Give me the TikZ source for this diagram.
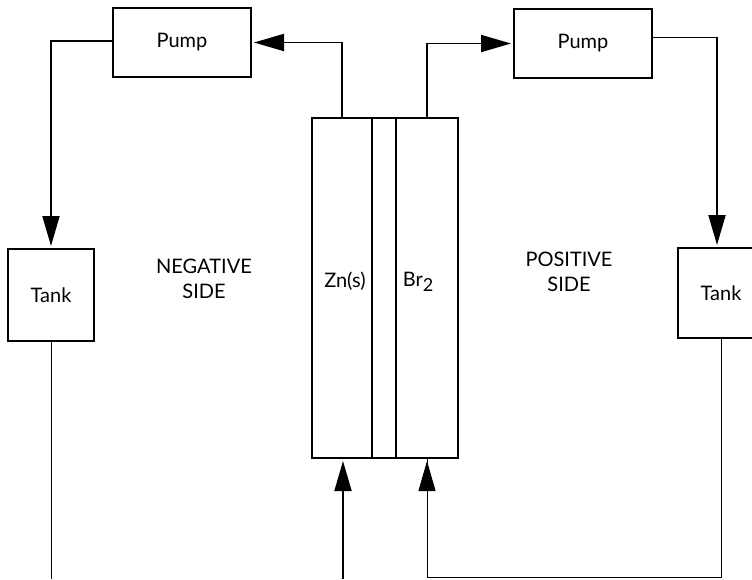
\documentclass[tikz,border=0pt]{standalone}
\usepackage{fontspec}
\setmainfont{Lato}
\usetikzlibrary{arrows.meta}
\begin{document}
\begin{tikzpicture}[x=1pt,y=-1pt,
  every node/.style={font=\fontsize{20}{24.5}\selectfont},
  unit/.style={draw,line width=1.9pt,inner sep=0pt,outer sep=0pt},
  heavy/.style={line width=1.9pt},
  light/.style={line width=0.9pt},
  tip/.style={-{Triangle[length=30pt,width=17pt]},shorten >=3pt}]
\useasboundingbox (0,0) rectangle (752,579);
% pumps and tanks
\node[unit,minimum width=138,minimum height=69] (lp) at (182,42.5) {Pump};
\node[unit,minimum width=138,minimum height=69] (rp) at (583,43.5) {Pump};
\node[unit,minimum width=86,minimum height=92] (lt) at (51,295) {Tank};
\node[unit,minimum width=86,minimum height=90] (rt) at (721,293) {Tank};
% cell compartments
\node[unit,minimum width=60,minimum height=340] (zn) at (342,288) {};
\node[unit,minimum width=24,minimum height=340] (mem) at (384,288) {};
\node[unit,minimum width=62,minimum height=340] (br) at (427,288) {};
\node (znl) at (345,281) {Zn(s)};
\node (brl) at (418,282) {Br\raisebox{-5pt}{\fontsize{18}{18}\selectfont 2}};
% side labels
\node[align=center] (neg) at (204,279) {NEGATIVE\\SIDE};
\node[align=center] (pos) at (569,272) {POSITIVE\\SIDE};
% bottom coordinates
\coordinate (bot) at (0,577);
\coordinate (zin) at (343,579);
\coordinate (lend) at (49,579);
% connectors
\draw[heavy,tip] (zn.north) |- (lp.east);
\draw[heavy,tip] (br.north) |- (rp.west);
\draw[heavy,tip] ([yshift=1.5pt]lp.west) -| (lt.north);
\draw[heavy,tip] ([yshift=6pt]rp.east) -| ([xshift=-4pt]rt.north);
\draw[light] (lt.south) -- (lt.south |- lend);
\draw[heavy,tip] (zin) -- (zin |- zn.south);
\draw[light] (rt.south) |- (br.south |- bot) -- (br.south);
\draw[light,tip] (br.south |- bot) -- (br.south);
\end{tikzpicture}
\end{document}
